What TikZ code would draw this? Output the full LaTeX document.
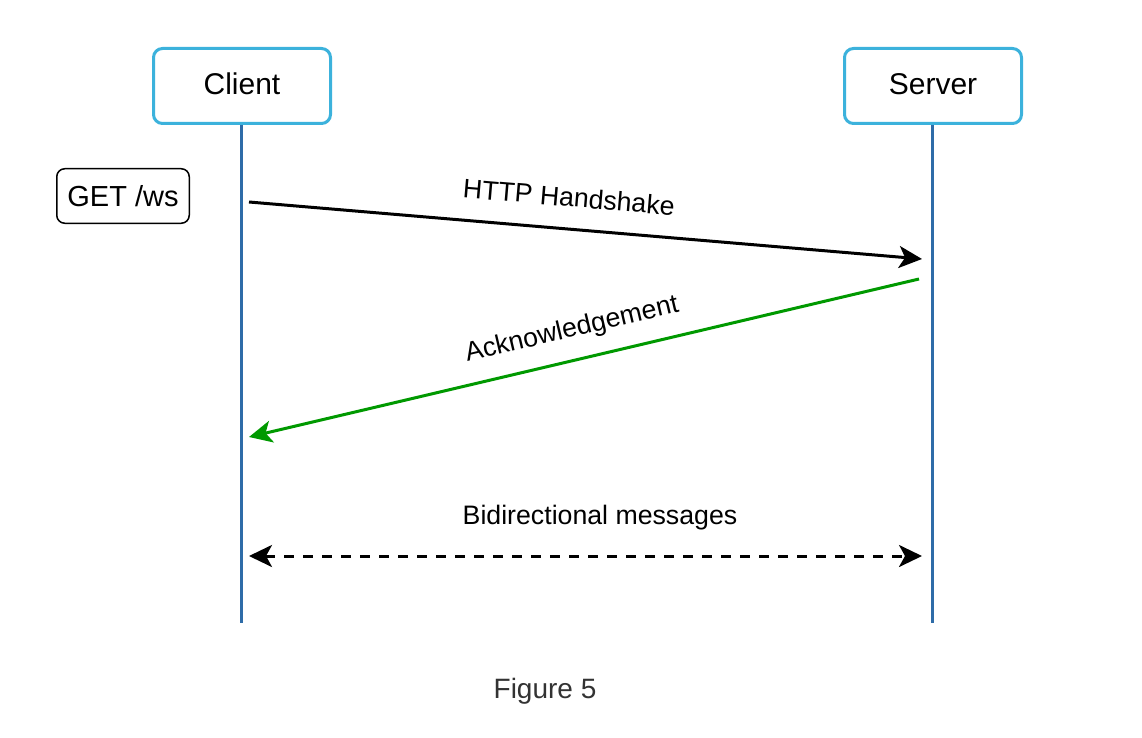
\documentclass[tikz,border=0pt]{standalone}
\usepackage{fontspec}
\setmainfont{Liberation Sans}
\usetikzlibrary{arrows.meta}
\definecolor{boxblue}{RGB}{60,178,220}
\definecolor{lifeblue}{RGB}{46,108,168}
\definecolor{ackgreen}{RGB}{0,153,0}
\definecolor{captiongray}{RGB}{51,51,51}
\tikzset{
  party/.style={draw=boxblue, line width=3pt, rounded corners=9pt, fill=white,
    minimum width=177pt, minimum height=75pt, inner sep=0pt,
    font=\fontsize{30}{36}\selectfont},
  lifeline/.style={draw=lifeblue, line width=3pt},
  tag/.style={draw=black, line width=1.5pt, rounded corners=8pt,
    minimum width=132.5pt, minimum height=54.5pt, inner sep=0pt,
    font=\fontsize{29}{35}\selectfont},
  msg/.style={line width=3pt, -{Stealth[length=23pt,width=22pt,inset=6pt]}},
  msglabel/.style={inner sep=0pt, font=\fontsize{26.7}{32}\selectfont},
}
\begin{document}
\begin{tikzpicture}[x=1pt,y=-1pt]
\useasboundingbox (0,0) rectangle (1142,738);

% participants
\node[party] (client) at (242,86) {};
\node[party] (server) at (933,86) {};
\node[inner sep=0pt, font=\fontsize{30}{36}\selectfont] (clientname) at (242,84) {Client};
\node[inner sep=0pt, font=\fontsize{30}{36}\selectfont] (servername) at (933,84) {Server};

% lifelines
\coordinate (clientend) at (241,623);
\coordinate (serverend) at (932,623);
\draw[lifeline] (client.south -| clientend) -- (clientend);
\draw[lifeline] (server.south -| serverend) -- (serverend);

% request tag
\node[tag] (get) at (123,196) {GET /ws};

% handshake
\coordinate (hsA) at (249,202);
\coordinate (hsB) at (922,259);
\draw[msg, draw=black] (hsA) -- (hsB);
\node[msglabel, rotate=-4.84] (hslabel) at (569,197) {HTTP Handshake};

% acknowledgement
\coordinate (ackA) at (919,279);
\coordinate (ackB) at (249,437);
\draw[msg, draw=ackgreen, fill=ackgreen] (ackA) -- (ackB);
\node[msglabel, rotate=13.27] (acklabel) at (572,330) {Acknowledgement};

% bidirectional messages
\coordinate (biA) at (249,556);
\coordinate (biB) at (922,556);
\draw[line width=3pt, dash pattern=on 10pt off 9pt,
  {Stealth[length=23pt,width=22pt,inset=6pt]}-{Stealth[length=23pt,width=22pt,inset=6pt]}]
  (biA) -- (biB);
\node[msglabel] (bilabel) at (600,518) {Bidirectional messages};

% caption
\node[inner sep=0pt, text=captiongray, font=\fontsize{28}{33}\selectfont] (caption) at (545,691) {Figure 5};
\end{tikzpicture}
\end{document}
